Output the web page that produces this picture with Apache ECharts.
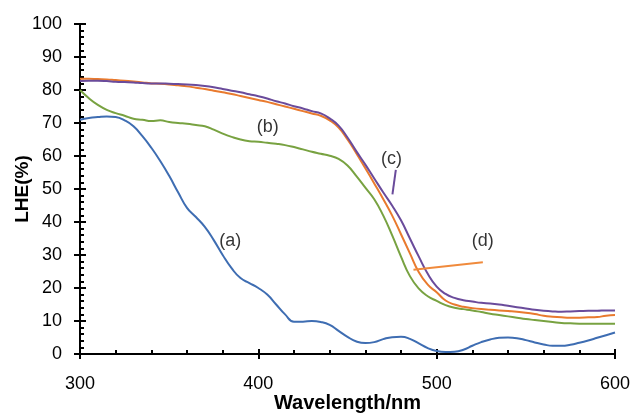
<!DOCTYPE html>
<html>
<head>
<meta charset="utf-8">
<script src="https://cdn.jsdelivr.net/npm/echarts@6/dist/echarts.min.js"></script>
<style>
  html, body { margin: 0; padding: 0; background: #fff; }
  #chart { width: 634px; height: 417px; }
</style>
</head>
<body>
<div id="chart"></div>
<script>
// wavelength (nm), every 5 nm
var wavelength = [300,305,310,315,320,325,330,335,340,345,350,355,360,365,370,375,380,385,390,395,
	400,405,410,415,420,425,430,435,440,445,450,455,460,465,470,475,480,485,490,495,
	500,505,510,515,520,525,530,535,540,545,550,555,560,565,570,575,580,585,590,595,600];

// (a) blue
var lheA = [71,71.5,71.8,72,71.8,70.8,69,66,62.5,58.5,54,49,44.3,41.5,38.5,34.5,30,26,23,21.5,
	20,18,15,12,9.8,9.8,10,9.7,8.8,7,5.2,3.8,3.3,3.6,4.5,5.1,5.2,4.6,3.2,1.8,
	0.9,0.6,0.7,1.3,2.5,3.6,4.4,4.9,5,4.8,4.2,3.5,2.9,2.5,2.5,2.8,3.4,4.1,4.9,5.7,6.5];
// (b) green
var lheB = [80,77.5,75.5,74,73,72.2,71.3,71,70.6,70.8,70.3,70,69.8,69.4,69,68,66.8,65.8,65,64.5,
	64.3,64,63.7,63.3,62.7,62,61.3,60.7,60.1,59.1,57.1,53.9,50.4,46.9,42,36,29.5,23.6,19.8,17.5,
	16.1,14.8,14,13.6,13.2,12.7,12.2,11.8,11.4,11,10.6,10.3,10,9.7,9.4,9.3,9.2,9.2,9.2,9.2,9.2];
// (c) purple
var lheC = [82.7,82.8,82.8,82.7,82.5,82.4,82.3,82.1,82,82,81.9,81.8,81.7,81.5,81.2,80.8,80.3,79.8,79.3,78.7,
	78.1,77.4,76.6,75.9,75.1,74.4,73.6,72.9,71.4,69.2,65.6,61.4,57.4,53.2,49,45,40.5,35,29.5,24.3,
	20.4,18.2,17,16.3,15.9,15.5,15.3,15,14.6,14.2,13.8,13.4,13.1,12.9,12.8,12.9,13,13.1,13.1,13.2,13.2];
// (d) orange
var lheD = [83.4,83.4,83.3,83.2,83,82.8,82.6,82.3,82,81.9,81.7,81.4,81.1,80.7,80.3,79.8,79.3,78.8,78.2,77.6,
	77,76.4,75.7,75,74.3,73.6,72.9,72.2,70.8,68.6,65,60.8,56.3,51.7,47,42,36.3,30.5,24.8,21,
	18.7,16.2,15,14.3,13.9,13.6,13.4,13.2,13,12.8,12.5,12.1,11.6,11.3,11.1,11,11,11.1,11.2,11.6,11.8];

var xTicks = [300, 400, 500, 600];
var yTicks = [0, 10, 20, 30, 40, 50, 60, 70, 80, 90, 100];

// curve labels and their positions in data units
var annotText = ['(a)', '(b)', '(c)', '(d)'];
var annotX = [384.3, 405.3, 474.7, 525.8];
var annotY = [34.3, 68.9, 59, 34.3];
var leaderC = [[477.1, 55.8], [475.2, 48.4]];
var leaderD = [[487, 25.5], [525.9, 27.8]];

var colors = { a: '#3e6db2', b: '#78a241', c: '#6a4b9b', d: '#e97a2e' };

function pairs(ys) {
	return wavelength.map(function (w, i) { return [w, ys[i]]; });
}

function lineSeries(ys, color, extra) {
	var s = {
		type: 'line',
		data: pairs(ys),
		smooth: 0.5,
		showSymbol: false,
		silent: true,
		xAxisIndex: 0,
		yAxisIndex: 0,
		lineStyle: { color: color, width: 2 },
		itemStyle: { color: color }
	};
	if (extra) s.markLine = extra;
	return s;
}

function leader(pts, color) {
	return {
		silent: true,
		symbol: ['none', 'none'],
		label: { show: false },
		lineStyle: { color: color, width: 2, type: 'solid' },
		data: [[{ coord: pts[0] }, { coord: pts[1] }]]
	};
}

var font = 'Liberation Sans, Arial, sans-serif';
var chart = echarts.init(document.getElementById('chart'), null, { renderer: 'canvas' });

var axisX = { type: 'value', min: 300, max: 600, interval: 100, position: 'bottom' };
var axisY = { type: 'value', min: 0, max: 100, interval: 10, position: 'left' };

var option = {
	animation: false,
	backgroundColor: '#fff',
	grid: { left: 80, right: 19, top: 24, bottom: 63, containLabel: false, outerBoundsMode: 'none' },
	xAxis: [
		Object.assign({}, axisX, {
			name: 'Wavelength/nm',
			nameLocation: 'middle',
			nameGap: 39,
			nameMoveOverlap: false,
			nameTextStyle: { fontFamily: font, fontSize: 20, fontWeight: 'bold', color: '#000' },
			axisLine: { show: true, lineStyle: { color: '#000', width: 2 } },
			axisTick: { show: true, inside: true, length: 5, lineStyle: { color: '#000', width: 2 } },
			minorTick: { show: true, splitNumber: 5, length: 4, lineStyle: { color: '#000', width: 2 } },
			axisLabel: { fontFamily: font, fontSize: 18, color: '#000', margin: 21,
				formatter: function (v) { return xTicks.indexOf(v) >= 0 ? String(v) : ''; } },
			splitLine: { show: false }
		}),
		Object.assign({}, axisX, {
			axisLine: { show: false },
			axisTick: { show: true, inside: false, length: 5, lineStyle: { color: '#000', width: 2 } },
			axisLabel: { show: false },
			splitLine: { show: false }
		})
	],
	yAxis: [
		Object.assign({}, axisY, {
			name: 'LHE(%)',
			nameLocation: 'middle',
			nameGap: 48,
			nameMoveOverlap: false,
			nameTextStyle: { fontFamily: font, fontSize: 19, fontWeight: 'bold', color: '#000' },
			axisLine: { show: true, lineStyle: { color: '#000', width: 2 } },
			axisTick: { show: true, inside: true, length: 6, lineStyle: { color: '#000', width: 2 } },
			minorTick: { show: true, splitNumber: 5, length: 4, lineStyle: { color: '#000', width: 2 } },
			axisLabel: { fontFamily: font, fontSize: 18, color: '#000', margin: 18,
				formatter: function (v) { return yTicks.indexOf(v) >= 0 ? String(v) : ''; } },
			splitLine: { show: false }
		}),
		Object.assign({}, axisY, {
			axisLine: { show: false },
			axisTick: { show: true, inside: false, length: 6, lineStyle: { color: '#000', width: 2 } },
			axisLabel: { show: false },
			splitLine: { show: false }
		})
	],
	series: [
		lineSeries(lheA, colors.a),
		lineSeries(lheB, colors.b),
		lineSeries(lheD, colors.d, leader(leaderD, '#f08a3c')),
		lineSeries(lheC, colors.c, leader(leaderC, colors.c)),
		{
			type: 'scatter',
			silent: true,
			symbolSize: 0,
			xAxisIndex: 0,
			yAxisIndex: 0,
			data: annotText.map(function (t, i) { return { value: [annotX[i], annotY[i]], name: t }; }),
			label: {
				show: true,
				position: 'inside',
				formatter: '{b}',
				fontFamily: font,
				fontSize: 18,
				color: '#000'
			}
		}
	]
};

chart.setOption(option);
</script>
</body>
</html>
